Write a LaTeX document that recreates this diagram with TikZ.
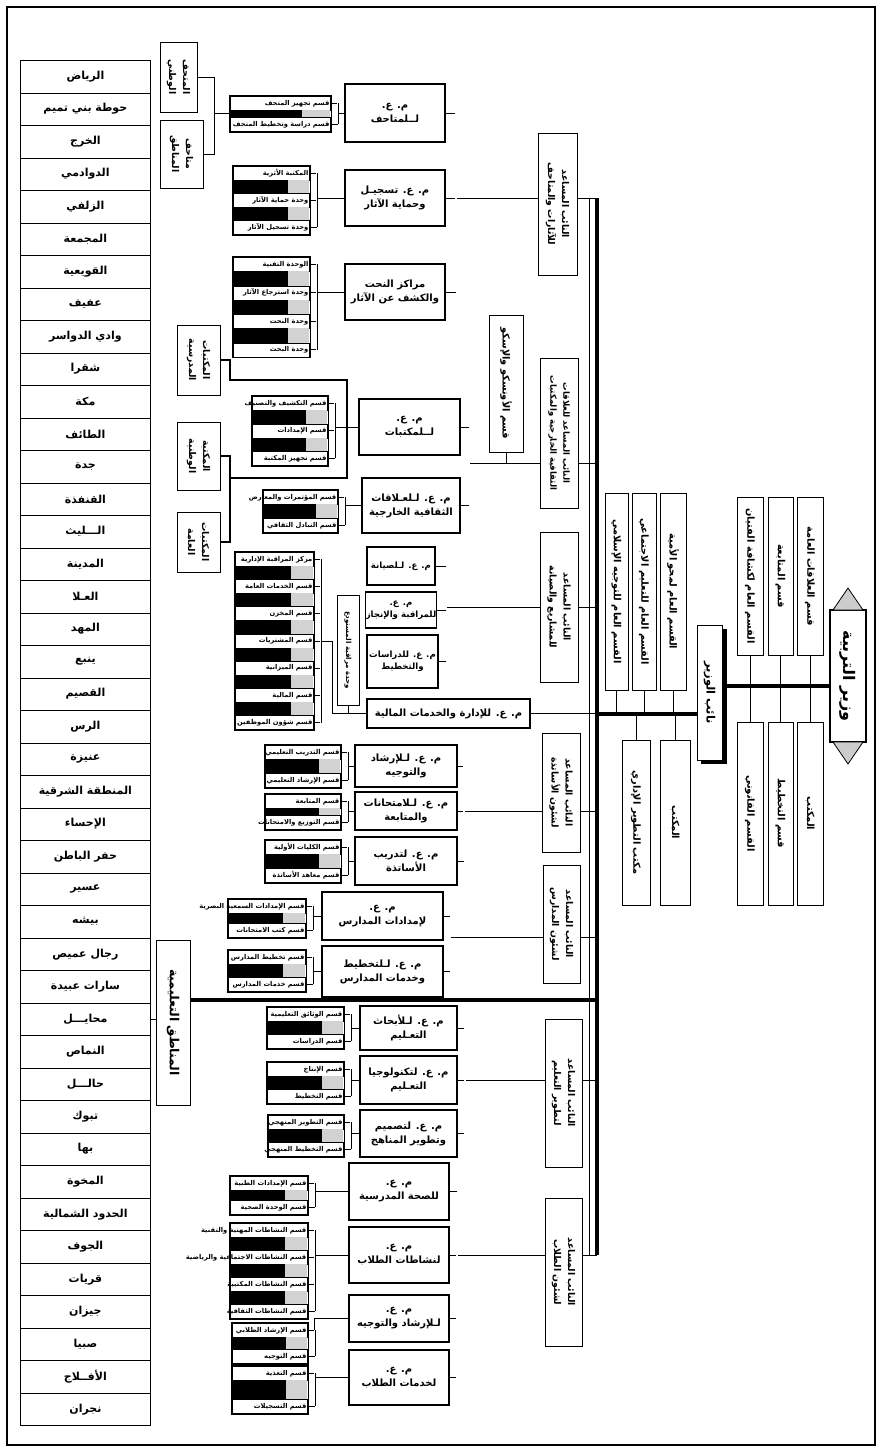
\documentclass[tikz,border=0pt]{standalone}
\usepackage{fontspec}
\usetikzlibrary{calc}
\TeXXeTstate=1
\newfontfamily\arabicfont[Script=Arabic]{DejaVu Sans}
\newcommand\ar[1]{\beginR#1\endR}
\newcommand\rowh{14}
\pgfdeclarelayer{bgz}
\pgfdeclarelayer{bg}
\pgfsetlayers{bgz,bg,main}
\tikzset{
  box/.style={draw, line width=1pt, fill=white, inner sep=0.5pt},
  dirbox/.style={box, line width=1.2pt, align=center, font=\arabicfont\bfseries\fontsize{10}{14}\selectfont},
  dirs/.style={dirbox, font=\arabicfont\bfseries\fontsize{8.6}{12}\selectfont},
  vtext/.style={rotate=-90, align=center, inner sep=0pt, font=\arabicfont\bfseries\fontsize{9.3}{14}\selectfont},
  vsmall/.style={font=\arabicfont\bfseries\fontsize{8.5}{13}\selectfont},
  vnine/.style={font=\arabicfont\bfseries\fontsize{9.8}{12}\selectfont},
  secrow/.style={draw, line width=0.6pt, fill=white, minimum height=\rowh pt, inner sep=0pt},
  sectext/.style={inner sep=1pt, font=\arabicfont\bfseries\fontsize{6.7}{8}\selectfont},
  link/.style={line width=0.8pt},
  dbl/.style={double, double distance=1.2pt, line width=0.5pt},
  spine/.style={line width=3.4pt},
  regrow/.style={draw, line width=0.8pt, fill=white, minimum width=130pt, minimum height=32.5pt, inner sep=0pt, anchor=north west, font=\arabicfont\bfseries\fontsize{11}{13}\selectfont},
}
\newcommand\hb[7][dirbox]{\node[#1, minimum width={#5pt-#3pt}, minimum height={#6pt-#4pt}] (#2) at ({(#3+#5)/2},{(#4+#6)/2}) {#7};}
\newcommand\vb[7][]{\node[box, minimum width={#5pt-#3pt}, minimum height={#6pt-#4pt}] (#2) at ({(#3+#5)/2},{(#4+#6)/2}) {};\node[vtext,#1] (#2-t) at (#2.center) {#7};}
\newcommand\secs[6]{%
  \foreach \txt [count=\i] in {#6} {%
    \pgfmathsetmacro\yy{#3+(\i-1)*#5}%
    \node[secrow, minimum width=#4pt, anchor=north west] (#1-\i) at (#2,\yy) {};
    \node[sectext, anchor=east] (#1-\i-t) at (#1-\i.east) {\txt};
    \xdef\lastn{\i}%
  }%
  \foreach \i in {2,...,\lastn} {%
    \pgfmathsetmacro\ya{#3+(\i-2)*#5+\rowh}%
    \pgfmathsetmacro\yb{#3+(\i-1)*#5}%
    \pgfmathsetmacro\xm{#2+0.72*#4}%
    \fill (#2,\ya) rectangle (\xm,\yb);
    \fill[gray!35] (\xm,\ya) rectangle ({#2+#4},\yb);
  }%
  \pgfmathsetmacro\ye{#3+(\lastn-1)*#5+\rowh+1}%
  \draw[line width=0.9pt] ({#2-1},{#3-1}) rectangle ({#2+#4+1},\ye);
  \foreach \i in {1,...,\lastn} {\draw[link] (#1-\i.east) -- ++(7,0);}%
  \coordinate (#1-b) at ($(#1-1.east)+(7,0)$);
  \coordinate (#1-e) at ($(#1-\lastn.east)+(7,0)$);
  \draw[dbl] (#1-b) -- (#1-e);
}
\begin{document}
\begin{tikzpicture}[x=1pt,y=-1pt]
\useasboundingbox (0,0) rectangle (882,1452);
\begin{pgfonlayer}{bgz}\fill[white] (0,0) rectangle (882,1452);\end{pgfonlayer}
\draw[line width=1.4pt] (7,7) rectangle (875,1445);

\coordinate (spX) at (597,0);
\coordinate (spT) at (589,0);
\coordinate (sL) at (650,714);
\coordinate (sR) at (780,686);
\coordinate (gA) at (456,0);
\coordinate (gB) at (470,0);
\coordinate (gC) at (447,0);
\coordinate (gD) at (464,0);
\coordinate (gE) at (451,0);
\coordinate (gF) at (465,0);
\coordinate (gG) at (457,0);
\coordinate (hB) at (500,463);
\coordinate (hE) at (500,937);
\coordinate (tk) at (300,1000);
\coordinate (lk1) at (230,380);
\coordinate (lk2) at (347,380);
\coordinate (lk3) at (347,478);
\coordinate (lk4) at (230,478);
\coordinate (mvb) at (214,113);

% minister
\node[box, line width=1.3pt, minimum width=36pt, minimum height=132pt] (mn) at (848,676) {};
\node[vtext, font=\arabicfont\bfseries\fontsize{16}{18}\selectfont] (mn-t) at (mn.center) {\ar{وزير التربية}};
\filldraw[fill=gray!40, line width=0.8pt] (833,610) -- (848,588) -- (863,610) -- cycle;
\filldraw[fill=gray!40, line width=0.8pt] (833,742) -- (848,764) -- (863,742) -- cycle;

% minister staff
\vb[vnine]{st1}{797}{497}{823}{655}{\ar{قسم العلاقات العامة}}
\vb[vnine]{st2}{768}{497}{793}{655}{\ar{قسم المتابعة}}
\vb[vnine]{st3}{737}{497}{763}{655}{\ar{القسم العام لكشافة الفتيان}}
\vb[vnine]{st4}{797}{722}{823}{905}{\ar{المكتب}}
\vb[vnine]{st5}{768}{722}{793}{905}{\ar{قسم التخطيط}}
\vb[vnine]{st6}{737}{722}{763}{905}{\ar{القسم القانوني}}

% deputy minister
\fill (701,629) rectangle (727,764);
\vb[font=\arabicfont\bfseries\fontsize{11.5}{13}\selectfont]{nv}{697}{625}{722}{760}{\ar{نائب الوزير}}

% general sections
\vb[vnine]{gs1}{605}{493}{628}{690}{\ar{القسم العام للتوجيه الإسلامي}}
\vb[vnine]{gs2}{632}{493}{656}{690}{\ar{القسم العام للتعليم الاجتماعي}}
\vb[vnine]{gs3}{660}{493}{686}{690}{\ar{القسم العام لمحو الأمية}}
\vb[vnine]{gs4}{622}{740}{650}{905}{\ar{مكتب التطوير الإداري}}
\vb[vnine]{gs5}{660}{740}{690}{905}{\ar{المكتب}}

% assistant deputies
\vb{depA}{538}{133}{577}{275}{\ar{النائب المساعد}\\\ar{للآثارات والمتاحف}}
\vb[vsmall]{depB}{540}{358}{578}{508}{\ar{النائب المساعد للعلاقات}\\\ar{الثقافية الخارجية والمكتبات}}
\vb{depC}{540}{532}{578}{682}{\ar{النائب المساعد}\\\ar{للمشاريع والصيانة}}
\vb{depD}{542}{733}{580}{852}{\ar{النائب المساعد}\\\ar{لشئون الأساتذة}}
\vb{depE}{543}{865}{580}{983}{\ar{النائب المساعد}\\\ar{لشئون المدارس}}
\vb{depF}{545}{1019}{582}{1167}{\ar{النائب المساعد}\\\ar{لتطوير التعليم}}
\vb{depG}{545}{1198}{582}{1346}{\ar{النائب المساعد}\\\ar{لشئون الطلاب}}

% side boxes
\vb[vnine]{uni}{489}{315}{523}{452}{\ar{قسم الأونسكو والإسكو}}
\vb{mv1}{160}{42}{197}{112}{\ar{المتحف}\\\ar{الوطني}}
\vb{mv2}{160}{120}{203}{188}{\ar{متاحف}\\\ar{المناطق}}
\vb{lb1}{177}{325}{220}{395}{\ar{المكتبات}\\\ar{المدرسية}}
\vb{lb2}{177}{422}{220}{490}{\ar{المكتبة}\\\ar{الوطنية}}
\vb{lb3}{177}{512}{220}{572}{\ar{المكتبات}\\\ar{العامة}}
\vb[font=\arabicfont\bfseries\fontsize{7}{8}\selectfont]{wh}{337}{595}{359}{705}{\ar{وحدة مراقبة المستودع}}

% directors
\hb{dirA1}{345}{84}{445}{142}{\ar{م. ع.}\\\ar{لــلمتاحف}}
\hb{dirA2}{345}{170}{445}{226}{\ar{م. ع. تسجيـل}\\\ar{وحماية الآثار}}
\hb{dirA3}{345}{264}{445}{320}{\ar{مراكز النحت}\\\ar{والكشف عن الآثار}}
\hb{dirB1}{359}{399}{460}{455}{\ar{م. ع.}\\\ar{لــلمكتبات}}
\hb{dirB2}{362}{478}{460}{533}{\ar{م. ع. لـلعـلاقات}\\\ar{الثقافية الخارجية}}
\hb[dirs]{dirC1}{367}{547}{435}{585}{\ar{م. ع. لـلصيانة}}
\hb[dirs]{dirC2}{367}{592}{435}{628}{\ar{م. ع.}\\\ar{للمراقبة والإنجاز}}
\hb[dirs]{dirC3}{367}{635}{438}{688}{\ar{م. ع. للدراسات}\\\ar{والتخطيط}}
\hb{dirC4}{367}{699}{530}{728}{\ar{م. ع. للإدارة والخدمات المالية}}
\hb{dirD1}{355}{745}{457}{787}{\ar{م. ع. لـلإرشاد}\\\ar{والتوجيه}}
\hb{dirD2}{355}{792}{457}{830}{\ar{م. ع. لـلامتحانات}\\\ar{والمتابعة}}
\hb{dirD3}{355}{837}{457}{885}{\ar{م. ع. لتدريب}\\\ar{الأساتذة}}
\hb{dirE1}{322}{892}{443}{940}{\ar{م. ع.}\\\ar{لإمدادات المدارس}}
\hb{dirE2}{322}{946}{443}{997}{\ar{م. ع. لـلتخطيط}\\\ar{وخدمات المدارس}}
\hb{dirF1}{360}{1006}{457}{1050}{\ar{م. ع. لـلأبحاث}\\\ar{التعـليم}}
\hb{dirF2}{360}{1056}{457}{1104}{\ar{م. ع. لتكنولوجيا}\\\ar{التعـليم}}
\hb{dirF3}{360}{1110}{457}{1157}{\ar{م. ع. لتصميم}\\\ar{وتطوير المناهج}}
\hb{dirG1}{349}{1163}{449}{1220}{\ar{م. ع.}\\\ar{للصحة المدرسية}}
\hb{dirG2}{349}{1227}{449}{1283}{\ar{م. ع.}\\\ar{لنشاطات الطلاب}}
\hb{dirG3}{349}{1295}{449}{1342}{\ar{م. ع.}\\\ar{لـلإرشاد والتوجيه}}
\hb{dirG4}{349}{1350}{449}{1405}{\ar{م. ع.}\\\ar{لخدمات الطلاب}}

% sections
\secs{secA1}{230}{96}{100}{21}{\ar{قسم تجهيز المتحف},\ar{قسم دراسة وتخطيط المتحف}}
\secs{secA2}{233}{166}{76}{27}{\ar{المكتبة الأثرية},\ar{وحدة حماية الآثار},\ar{وحدة تسجيل الآثار}}
\secs{secA3}{233}{257}{76}{28.5}{\ar{الوحدة التقنية},\ar{وحدة استرجاع الآثار},\ar{وحدة النحت},\ar{وحدة البحث}}
\secs{secB1}{252}{396}{75}{27.5}{\ar{قسم التكشيف والتصنيف},\ar{قسم الإمدادات},\ar{قسم تجهيز المكتبة}}
\secs{secB2}{263}{490}{74}{28}{\ar{قسم المؤتمرات والمعارض},\ar{قسم التبادل الثقافي}}
\secs{secAd}{235}{552}{78}{27.2}{\ar{مركز المراقبة الإدارية},\ar{قسم الخدمات العامة},\ar{قسم المخزن},\ar{قسم المشتريات},\ar{قسم الميزانية},\ar{قسم المالية},\ar{قسم شؤون الموظفين}}
\secs{secD1}{265}{745}{75}{28}{\ar{قسم التدريب التعليمي},\ar{قسم الإرشاد التعليمي}}
\secs{secD2}{265}{794}{75}{21}{\ar{قسم المتابعة},\ar{قسم التوزيع والامتحانات}}
\secs{secD3}{265}{840}{75}{28}{\ar{قسم الكليات الأولية},\ar{قسم معاهد الأساتذة}}
\secs{secE1}{228}{899}{77}{24}{\ar{قسم الإمدادات السمعية البصرية},\ar{قسم كتب الامتحانات}}
\secs{secE2}{228}{950}{77}{27}{\ar{قسم تخطيط المدارس},\ar{قسم خدمات المدارس}}
\secs{secF1}{267}{1007}{76}{27}{\ar{قسم الوثائق التعليمية},\ar{قسم الدراسات}}
\secs{secF2}{267}{1062}{76}{27}{\ar{قسم الإنتاج},\ar{قسم التخطيط}}
\secs{secF3}{268}{1115}{75}{27}{\ar{قسم التطوير المنهجي},\ar{قسم التخطيط المنهجي}}
\secs{secG1}{230}{1176}{77}{24}{\ar{قسم الإمدادات الطبية},\ar{قسم الوحدة الصحية}}
\secs{secG2}{230}{1223}{77}{27}{\ar{قسم النشاطات المهنية والتقنية},\ar{قسم النشاطات الاجتماعية والرياضية},\ar{قسم النشاطات المكتبية},\ar{قسم النشاطات الثقافية}}
\secs{secG3}{232}{1323}{75}{26}{\ar{قسم الإرشاد الطلابي},\ar{قسم التوجيه}}
\secs{secG4}{232}{1366}{75}{33}{\ar{قسم التغذية},\ar{قسم التسجيلات}}

% regions
\foreach \rg [count=\i] in {\ar{الرياض},\ar{حوطة بني تميم},\ar{الخرج},\ar{الدوادمي},\ar{الزلفي},\ar{المجمعة},\ar{القويعية},\ar{عفيف},\ar{وادي الدواسر},\ar{شقرا},\ar{مكة},\ar{الطائف},\ar{جدة},\ar{القنفذة},\ar{الـــليث},\ar{المدينة},\ar{العـلا},\ar{المهد},\ar{ينبع},\ar{القصيم},\ar{الرس},\ar{عنيزة},\ar{المنطقة الشرقية},\ar{الإحساء},\ar{حفر الباطن},\ar{عسير},\ar{بيشه},\ar{رجال عميص},\ar{سارات عبيدة},\ar{محايـــل},\ar{النماص},\ar{حالـــل},\ar{تبوك},\ar{بها},\ar{المخوة},\ar{الحدود الشمالية},\ar{الجوف},\ar{قريات},\ar{جيزان},\ar{صبيا},\ar{الأفــلاج},\ar{نجران}} {\node[regrow] (reg-\i) at (20,{60+(\i-1)*32.5}) {\rg};}
\vb[font=\arabicfont\bfseries\fontsize{12.5}{14}\selectfont]{mant}{156}{940}{190}{1105}{\ar{المناطق التعليمية}}

\begin{pgfonlayer}{bg}
% spine
\draw[spine] (spX |- dirA2.east) -- (spX |- dirG2.east);
\draw[line width=0.7pt] (spT |- dirA2.east) -- (spT |- dirG2.east);
\draw[spine] (spX |- sL) -- (nv.west |- sL);
\draw[spine] (nv.east |- sR) -- (mn.west |- sR);
\foreach \s in {st1,st2,st3} {\draw[line width=1pt] (\s.south) -- (\s.south |- sR);}
\foreach \s in {st4,st5,st6} {\draw[line width=1pt] (\s.north) -- (\s.north |- sR);}
\foreach \s in {gs1,gs2,gs3} {\draw[line width=1pt] (\s.south) -- (\s.south |- sL);}
\foreach \s in {gs4,gs5} {\draw[line width=1pt] (\s.north) -- (\s.north |- sL);}
% group A
\draw[link] (dirA1.east) -- (dirA1.east -| gA);
\draw[link] (dirA2.east) -- (spX |- dirA2.east);
\draw[link] (dirA3.east) -- (dirA3.east -| gA);
\draw[dbl] (gA |- dirA1.east) -- (gA |- dirA3.east);
\draw[link] (secA1-b) |- (dirA1.west);
\draw[link] (secA2-b) |- (dirA2.west);
\draw[link] (secA3-b) |- (dirA3.west);
\draw[link] (mv1.east) -| (mvb);
\draw[link] (mv2.east) -| (mvb);
\draw[link] (mvb) -- (secA1-1.west |- mvb);
% group B
\draw[link] (dirB1.east) -- (dirB1.east -| gB);
\draw[link] (dirB2.east) -- (dirB2.east -| gB);
\draw[dbl] (gB |- dirB1.east) -- (gB |- dirB2.east);
\draw[link] (gB |- hB) -- (spX |- hB);
\draw[link] (uni.south) -- (uni.south |- hB);
\draw[link] (secB1-b) |- (dirB1.west);
\draw[link] (secB2-b) |- (dirB2.west);
\draw[line width=1.2pt] (lb1.east) -| (lk1) -- (lk2) -- (lk3) -- (lk4);
\draw[line width=1.2pt] (lb2.east) -| (lk4);
\draw[line width=1.2pt] (lb3.east) -| (lk4);
% group C
\draw[link] (dirC1.east) -- (dirC1.east -| gC);
\draw[link] (dirC2.east) -- (dirC2.east -| gC);
\draw[link] (dirC3.east) -- (dirC3.east -| gC);
\draw[dbl] (gC |- dirC1.east) -- (gC |- dirC3.east);
\draw[link] (gC |- depC.west) -- (spX |- depC.west);
\draw[link] (dirC4.east) -- (dirC4.east -| spX);
\draw[link] (secAd-b |- secAd-4.east) -- ++(12,0) |- (dirC4.west);
\draw[link] (wh.south) -- (wh.south |- dirC4.west);
% group D
\draw[link] (dirD1.east) -- (dirD1.east -| gD);
\draw[link] (dirD2.east) -- (spX |- dirD2.east);
\draw[link] (dirD3.east) -- (dirD3.east -| gD);
\draw[dbl] (gD |- dirD1.east) -- (gD |- dirD3.east);
\draw[link] (secD1-b) |- (dirD1.west);
\draw[link] (secD2-b) |- (dirD2.west);
\draw[link] (secD3-b) |- (dirD3.west);
% group E
\draw[link] (dirE1.east) -- (dirE1.east -| gE);
\draw[link] (dirE2.east) -- (dirE2.east -| gE);
\draw[dbl] (gE |- dirE1.east) -- (gE |- dirE2.east);
\draw[link] (gE |- hE) -- (spX |- hE);
\draw[link] (secE1-b) |- (dirE1.west);
\draw[link] (secE2-b) |- (dirE2.west);
% regions
\draw[link] (reg-30.east) -- (reg-30.east -| mant.west);
\draw[spine] (mant.east |- tk) -- (spX |- tk);
% group F
\draw[link] (dirF1.east) -- (dirF1.east -| gF);
\draw[link] (dirF2.east) -- (spX |- dirF2.east);
\draw[link] (dirF3.east) -- (dirF3.east -| gF);
\draw[dbl] (gF |- dirF1.east) -- (gF |- dirF3.east);
\draw[link] (secF1-b) |- (dirF1.west);
\draw[link] (secF2-b) |- (dirF2.west);
\draw[link] (secF3-b) |- (dirF3.west);
% group G
\draw[link] (dirG1.east) -- (dirG1.east -| gG);
\draw[link] (dirG2.east) -- (spX |- dirG2.east);
\draw[link] (dirG3.east) -- (dirG3.east -| gG);
\draw[link] (dirG4.east) -- (dirG4.east -| gG);
\draw[dbl] (gG |- dirG1.east) -- (gG |- dirG4.east);
\draw[link] (secG1-b) |- (dirG1.west);
\draw[link] (secG2-b) |- (dirG2.west);
\draw[link] (secG3-b) |- (dirG3.west);
\draw[link] (secG4-b) |- (dirG4.west);
\end{pgfonlayer}
\end{tikzpicture}
\end{document}
